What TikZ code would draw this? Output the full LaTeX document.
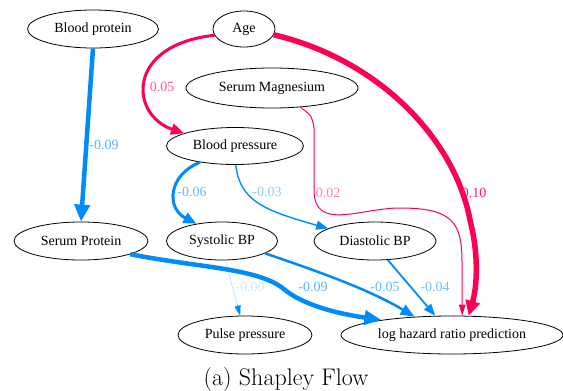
\documentclass[tikz,border=0pt]{standalone}
\usepackage{fontspec}
\setmainfont{Liberation Serif}
\newfontfamily\capfont{Latin Modern Roman}
\usetikzlibrary{shapes.geometric,arrows.meta,calc}
\definecolor{shapblue}{HTML}{008BFB}
\definecolor{shapred}{HTML}{FF0051}
\tikzset{
  var/.style={ellipse,draw,line width=0.8pt,inner sep=0pt,font=\fontsize{14}{16}\selectfont},
  flow/.style 2 args={-{Triangle[length=#1,width=#2]}},
  lbl/.style={font=\fontsize{14}{16}\selectfont,inner sep=0pt}
}
\begin{document}
\begin{tikzpicture}[x=1pt,y=-1pt]
\useasboundingbox (0,0) rectangle (563,391);

% variables
\node[var,minimum width=131pt,minimum height=38pt] (bprot) at (93,29) {Blood protein};
\node[var,minimum width=62pt,minimum height=36pt] (age) at (244,29) {Age};
\node[var,minimum width=172pt,minimum height=40pt] (smag) at (272,88) {Serum Magnesium};
\node[var,minimum width=137pt,minimum height=37pt] (bp) at (235,146) {Blood pressure};
\node[var,minimum width=134pt,minimum height=38pt] (sprot) at (81,241) {Serum Protein};
\node[var,minimum width=111pt,minimum height=38pt] (sys) at (222,241) {Systolic BP};
\node[var,minimum width=122pt,minimum height=38pt] (dia) at (375,241) {Diastolic BP};
\node[var,minimum width=134pt,minimum height=38pt] (pulse) at (245,335) {Pulse pressure};
\node[var,minimum width=222pt,minimum height=38pt] (lhr) at (452,335) {log hazard ratio prediction};

% positive contributions
\draw[shapred,line width=3pt,flow={13pt}{11pt}] (age.192) .. controls (125,45) and (130,115) .. (bp.166);
\draw[shapred,line width=5.5pt,flow={15pt}{14pt}] (age.-11) .. controls (380,60) and (455,140) .. (470,220)
  .. controls (480,260) and (476,290) .. (lhr.49);
\draw[shapred,line width=1pt,flow={11pt}{6.5pt}] (smag.-34) .. controls (312,116) .. (314,128) -- (314,190)
  .. controls (314,232) and (360,208) .. (400,208)
  .. controls (452,208) and (462,222) .. (462,262) -- (lhr.62);

% negative contributions
\draw[shapblue,line width=4.5pt,flow={17pt}{15pt}] (bprot.south) -- (sprot.north);
\draw[shapblue,line width=3pt,flow={13pt}{11pt}] (bp.205) .. controls (168,175) and (166,208) .. (sys.146);
\draw[shapblue,line width=1.4pt,flow={12pt}{9pt}] (bp.-88) .. controls (240,200) and (262,210) .. (dia.165);
\draw[color=shapblue!35,line width=0.5pt] (sys.-80) -- (pulse.104);
\draw[shapblue,line width=0.5pt,flow={10pt}{6pt}] ($(sys.-80)!0.8!(pulse.104)$) -- (pulse.104);
\draw[shapblue,line width=4.5pt,flow={17pt}{14pt}] (sprot.-15) .. controls (200,268) and (260,268) .. (285,290)
  .. controls (305,306) and (340,314) .. (lhr.168);
\draw[shapblue,line width=2.5pt,flow={14pt}{11pt}] (sys.-16) .. controls (320,272) and (370,290) .. (lhr.154);
\draw[shapblue,line width=1.8pt,flow={12pt}{9pt}] (dia.-56) -- (lhr.131);

% edge values
\node[lbl,text=shapred!65] (l1) at (162,87) {0.05};
\node[lbl,text=shapred!90] (l2) at (474,193) {0.10};
\node[lbl,text=shapred!50] (l3) at (328,193) {0.02};
\node[lbl,text=shapblue!65] (l4) at (104,145) {-0.09};
\node[lbl,text=shapblue!60] (l5) at (192,192) {-0.06};
\node[lbl,text=shapblue!45] (l6) at (267,192) {-0.03};
\node[lbl,text=shapblue!20] (l7) at (250,287) {-0.00};
\node[lbl,text=shapblue!65] (l8) at (313,287) {-0.09};
\node[lbl,text=shapblue!60] (l9) at (385,287) {-0.05};
\node[lbl,text=shapblue!55] (l10) at (435,287) {-0.04};

% caption
\node[anchor=base,inner sep=0pt,font=\capfont\fontsize{24}{28}\selectfont] (cap) at (286,385) {(a) Shapley Flow};
\end{tikzpicture}
\end{document}
